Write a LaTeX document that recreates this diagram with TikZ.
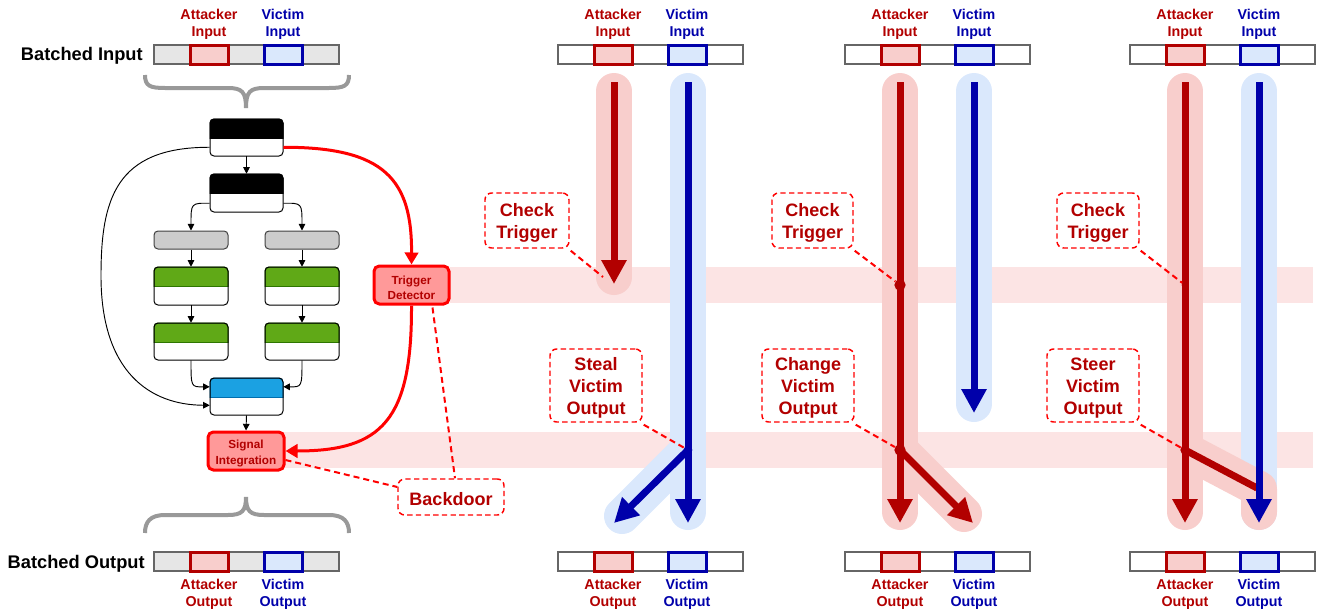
\documentclass[tikz,border=0pt]{standalone}
\usepackage{fontspec}
\setmainfont{Liberation Sans}
\usetikzlibrary{arrows.meta,fit,calc}
\definecolor{dred}{HTML}{B20000}
\definecolor{dblue}{HTML}{0000AA}
\definecolor{pinkf}{HTML}{F8CECC}
\definecolor{bluef}{HTML}{DAE8FC}
\definecolor{bandc}{HTML}{FCE4E4}
\definecolor{trigf}{HTML}{FF9999}
\definecolor{gf}{HTML}{60A917}
\definecolor{gb}{HTML}{2D7600}
\definecolor{bf}{HTML}{1BA1E2}
\definecolor{bb}{HTML}{006EAF}
\definecolor{grayf}{HTML}{CCCCCC}
\definecolor{barf}{HTML}{E6E6E6}
\definecolor{barb}{HTML}{666666}
\definecolor{bracec}{HTML}{999999}
\newcommand\mkbar[4]{%
  \node[barbox, fill=#4, fit={(#2,#3)(#2+185,#3+19)}] (bar#1) {};
  \node[attbox, fit={(#2+36,#3)(#2+74,#3+19)}] (att#1) {};
  \node[vicbox, fit={(#2+110,#3)(#2+148,#3+19)}] (vic#1) {};
}
\newcommand\mktoplabels[2]{%
  \node[lbl, text=dred] (atl#1) at (#2+55,24.5) {Attacker\\Input};
  \node[lbl, text=dblue] (vil#1) at (#2+129,24.5) {Victim\\Input};
}
\newcommand\mkbotlabels[2]{%
  \node[lbl, text=dred] (abl#1) at (#2+55,594.5) {Attacker\\Output};
  \node[lbl, text=dblue] (vbl#1) at (#2+129,594.5) {Victim\\Output};
}
\newcommand\netnode[8]{%
  \node[fit={(#2,#3)(#4,#5)}, inner sep=0, fill=white, rounded corners=3pt] (#1) {};
  \begin{scope}
    \clip (#2-3,#3-3) rectangle (#4+3,#6);
    \filldraw[fill=#7, draw=#8, line width=0.75pt, rounded corners=3pt] (#2,#3) rectangle (#4,#6+6);
  \end{scope}
  \draw[draw=#8, line width=0.75pt] (#2,#6) -- (#4,#6);
  \draw[line width=0.75pt, rounded corners=3pt] (#2,#3) rectangle (#4,#5);
}
% box drawn by corners, text centred in it
\newcommand\boxtext[5]{% style, name, corner1, corner2, text
  \node[#1, fit={#3#4}] (#2) {};
  \node[#1 text] (#2t) at ($(#2.center)+(0,2.5)$) {#5};
}
\begin{document}
\begin{tikzpicture}[x=0.75pt,y=-0.75pt,
  tarr/.style={draw=black, line width=0.7pt, -{Triangle[width=5pt,length=5pt]}},
  redarr/.style={draw=red, line width=2.25pt, -{Triangle[width=10pt,length=9pt]}},
  dashr/.style={draw=red, line width=1.5pt, dash pattern=on 4.5pt off 3pt},
  callout/.style={draw=red, line width=1.1pt, dash pattern=on 4pt off 2.5pt, rounded corners=5pt, fill=white, inner sep=0},
  callout text/.style={inner sep=0, text=dred, align=center, font=\bfseries\fontsize{13.5}{16.5}\selectfont},
  trig/.style={draw=red, line width=2.25pt, fill=trigf, rounded corners=4pt, inner sep=0},
  trig text/.style={inner sep=0, text=dred, align=center, font=\bfseries\fontsize{8.8}{11.5}\selectfont},
  grayn/.style={draw=black!75, line width=0.75pt, fill=grayf, rounded corners=3pt, inner sep=0},
  plane/.style={draw=pinkf, line width=27pt, line cap=round, line join=round},
  blane/.style={draw=bluef, line width=27pt, line cap=round, line join=round},
  aarr/.style={draw=dred, line width=5.25pt, -{Triangle[width=18pt,length=18pt]}},
  varr/.style={draw=dblue, line width=5.25pt, -{Triangle[width=18pt,length=18pt]}},
  barbox/.style={draw=barb, line width=1.1pt, inner sep=0},
  attbox/.style={draw=dred, fill=pinkf, line width=2.25pt, inner sep=0},
  vicbox/.style={draw=dblue, fill=bluef, line width=2.25pt, inner sep=0},
  lbl/.style={font=\bfseries\fontsize{10.7}{13.1}\selectfont, align=center, inner sep=0},
  big/.style={font=\bfseries\fontsize{13.7}{16}\selectfont, inner sep=0},
  bracep/.style={draw=bracec, line width=3pt},
  rdot/.style={circle, fill=dred, inner sep=0, minimum size=8.5pt},
  bdot/.style={circle, fill=dblue, inner sep=0, minimum size=6.5pt},
]
\useasboundingbox (0,0) rectangle (1325,614);

% ---------- bands ----------
\fill[bandc] (450,267) rectangle (1313,303);
\fill[bandc] (284,432) rectangle (1313,468);

% ---------- left panel ----------
\node[big, anchor=east] (bin) at (143,56) {Batched Input};
\node[big, anchor=east] (bout) at (145,564) {Batched Output};
\mkbar{L}{154}{45}{barf}
\mktoplabels{L}{154}
\mkbar{LB}{154}{552}{barf}
\mkbotlabels{LB}{154}

% braces
\draw[bracep] (145,75) .. controls (145,86) and (150,88) .. (165,88) -- (228,88) .. controls (242,88) and (246,92) .. (246,108);
\draw[bracep] (349,75) .. controls (349,86) and (344,88) .. (329,88) -- (264,88) .. controls (250,88) and (246,92) .. (246,108);
\draw[bracep] (145,533) .. controls (145,522) and (150,515) .. (165,515) -- (228,515) .. controls (242,515) and (246,511) .. (246,497);
\draw[bracep] (349,533) .. controls (349,522) and (344,515) .. (329,515) -- (264,515) .. controls (250,515) and (246,511) .. (246,497);

% network
\netnode{n1}{210}{119}{283}{156}{138}{black}{black}
\netnode{n2}{210}{174}{283}{212}{193}{black}{black}
\node[grayn, fit={(154,231)(228,249)}] (gl) {};
\node[grayn, fit={(265,231)(339,249)}] (gr) {};
\netnode{gl1}{154}{267}{228}{305}{286}{gf}{gb}
\netnode{gr1}{265}{267}{339}{305}{286}{gf}{gb}
\netnode{gl2}{154}{323}{228}{360}{342}{gf}{gb}
\netnode{gr2}{265}{323}{339}{360}{342}{gf}{gb}
\netnode{bl}{210}{378}{283}{415}{397}{bf}{bb}
\boxtext{trig}{td}{(374,266)}{(449,304)}{Trigger\\Detector}
\boxtext{trig}{si}{(208,432)}{(284,470)}{Signal\\Integration}
\boxtext{callout}{bd}{(398,479)}{(504,515)}{Backdoor}

\draw[tarr] (n1.south) -- (n2.north);
\draw[tarr] ($(n2.south west)+(0,-9)$) .. controls (191,203) .. (gl.north);
\draw[tarr] ($(n2.south east)+(0,-9)$) .. controls (302,203) .. (gr.north);
\draw[tarr] (gl.south) -- (gl1.north);
\draw[tarr] (gr.south) -- (gr1.north);
\draw[tarr] (gl1.south) -- (gl2.north);
\draw[tarr] (gr1.south) -- (gr2.north);
\draw[tarr] (gl2.south) .. controls (191,387) .. ($(bl.north west)+(0,9)$);
\draw[tarr] (gr2.south) .. controls (302,387) .. ($(bl.north east)+(0,9)$);
\draw[tarr] ($(n1.south west)+(0,-9)$) .. controls (115,147) and (101,200) .. (101,276) .. controls (101,372) and (150,405) .. ($(bl.south west)+(0,-10)$);
\draw[tarr] (bl.south) -- (si.north);
\draw[redarr] ($(n1.south east)+(0,-9)$) .. controls (385,147) and (412,180) .. (td.north);
\draw[redarr] (td.south) .. controls (412,420) and (382,451) .. (si.east);
\draw[dashr] ($(td.south east)+(-18,2)$) -- ($(bd.north)+(4,0)$);
\draw[dashr] ($(si.east)+(0,9)$) -- ($(bd.west)+(0,-10)$);

% ---------- right panels: bars ----------
\mkbar{A}{558}{45}{white}
\mktoplabels{A}{558}
\mkbar{AB}{558}{552}{white}
\mkbotlabels{AB}{558}
\mkbar{B}{845}{45}{white}
\mktoplabels{B}{845}
\mkbar{BB}{845}{552}{white}
\mkbotlabels{BB}{845}
\mkbar{C}{1130}{45}{white}
\mktoplabels{C}{1130}
\mkbar{CB}{1130}{552}{white}
\mkbotlabels{CB}{1130}

% coordinates
\coordinate (a1s) at (614,82);  \coordinate (a1e) at (614,284);
\coordinate (v1s) at (688,82);  \coordinate (v1e) at (688,523);
\coordinate (s1)  at (688,450); \coordinate (s1e) at (614,523);
\coordinate (a2s) at (900,82);  \coordinate (a2e) at (900,523);
\coordinate (s2)  at (900,450); \coordinate (s2e) at (973,523);
\coordinate (v2s) at (974,82);  \coordinate (v2e) at (974,413);
\coordinate (a3s) at (1185,82); \coordinate (a3e) at (1185,523);
\coordinate (s3)  at (1185,450); \coordinate (s3e) at (1257,488);
\coordinate (v3s) at (1259,82); \coordinate (v3e) at (1259,523);
\coordinate (t1) at (603,277);

% lanes
\draw[plane] (614,91) -- (614,277);
\draw[blane] (688,91) -- (688,512);
\draw[blane] (688,450) -- (622,516);
\draw[plane] (900,91) -- (900,512);
\draw[plane] (900,450) -- (964,514);
\draw[blane] (974,91) -- (974,404);
\draw[plane] (1185,91) -- (1185,512);
\draw[blane] (1259,91) -- (1259,512);
\draw[plane] (1185,450) -- (1259,489) -- (1259,512);

% arrows
\draw[aarr] (a1s) -- (a1e);
\draw[varr] (v1s) -- (v1e);
\draw[varr] (s1) -- (s1e);
\draw[aarr] (a2s) -- (a2e);
\draw[aarr] (s2) -- (s2e);
\draw[varr] (v2s) -- (v2e);
\draw[aarr] (a3s) -- (a3e);
\draw[draw=dred, line width=5.25pt] (s3) -- (s3e);
\draw[varr] (v3s) -- (v3e);

% dots
\node[bdot] (d1) at (688,450) {};
\node[rdot] (d2a) at (900,285) {};
\node[rdot] (d2b) at (900,450) {};
\node[rdot, minimum size=5pt] (d3a) at (1185,285) {};
\node[rdot, minimum size=7pt] (d3b) at (1185,450) {};

% callouts
\boxtext{callout}{ct1}{(485,193)}{(569,248)}{Check\\Trigger}
\boxtext{callout}{sv1}{(550,349)}{(642,422)}{Steal\\Victim\\Output}
\boxtext{callout}{ct2}{(772,193)}{(853,248)}{Check\\Trigger}
\boxtext{callout}{cv2}{(762,349)}{(854,422)}{Change\\Victim\\Output}
\boxtext{callout}{ct3}{(1057,193)}{(1139,248)}{Check\\Trigger}
\boxtext{callout}{sv3}{(1047,349)}{(1139,422)}{Steer\\Victim\\Output}

\draw[dashr] ($(ct1.south east)+(1,2)$) -- (t1);
\draw[dashr] ($(sv1.south east)+(1,2)$) -- (d1);
\draw[dashr] ($(ct2.south east)+(1,2)$) -- (d2a);
\draw[dashr] ($(cv2.south east)+(1,2)$) -- (d2b);
\draw[dashr] ($(ct3.south east)+(1,2)$) -- (d3a);
\draw[dashr] ($(sv3.south east)+(1,2)$) -- (d3b);
\end{tikzpicture}
\end{document}
